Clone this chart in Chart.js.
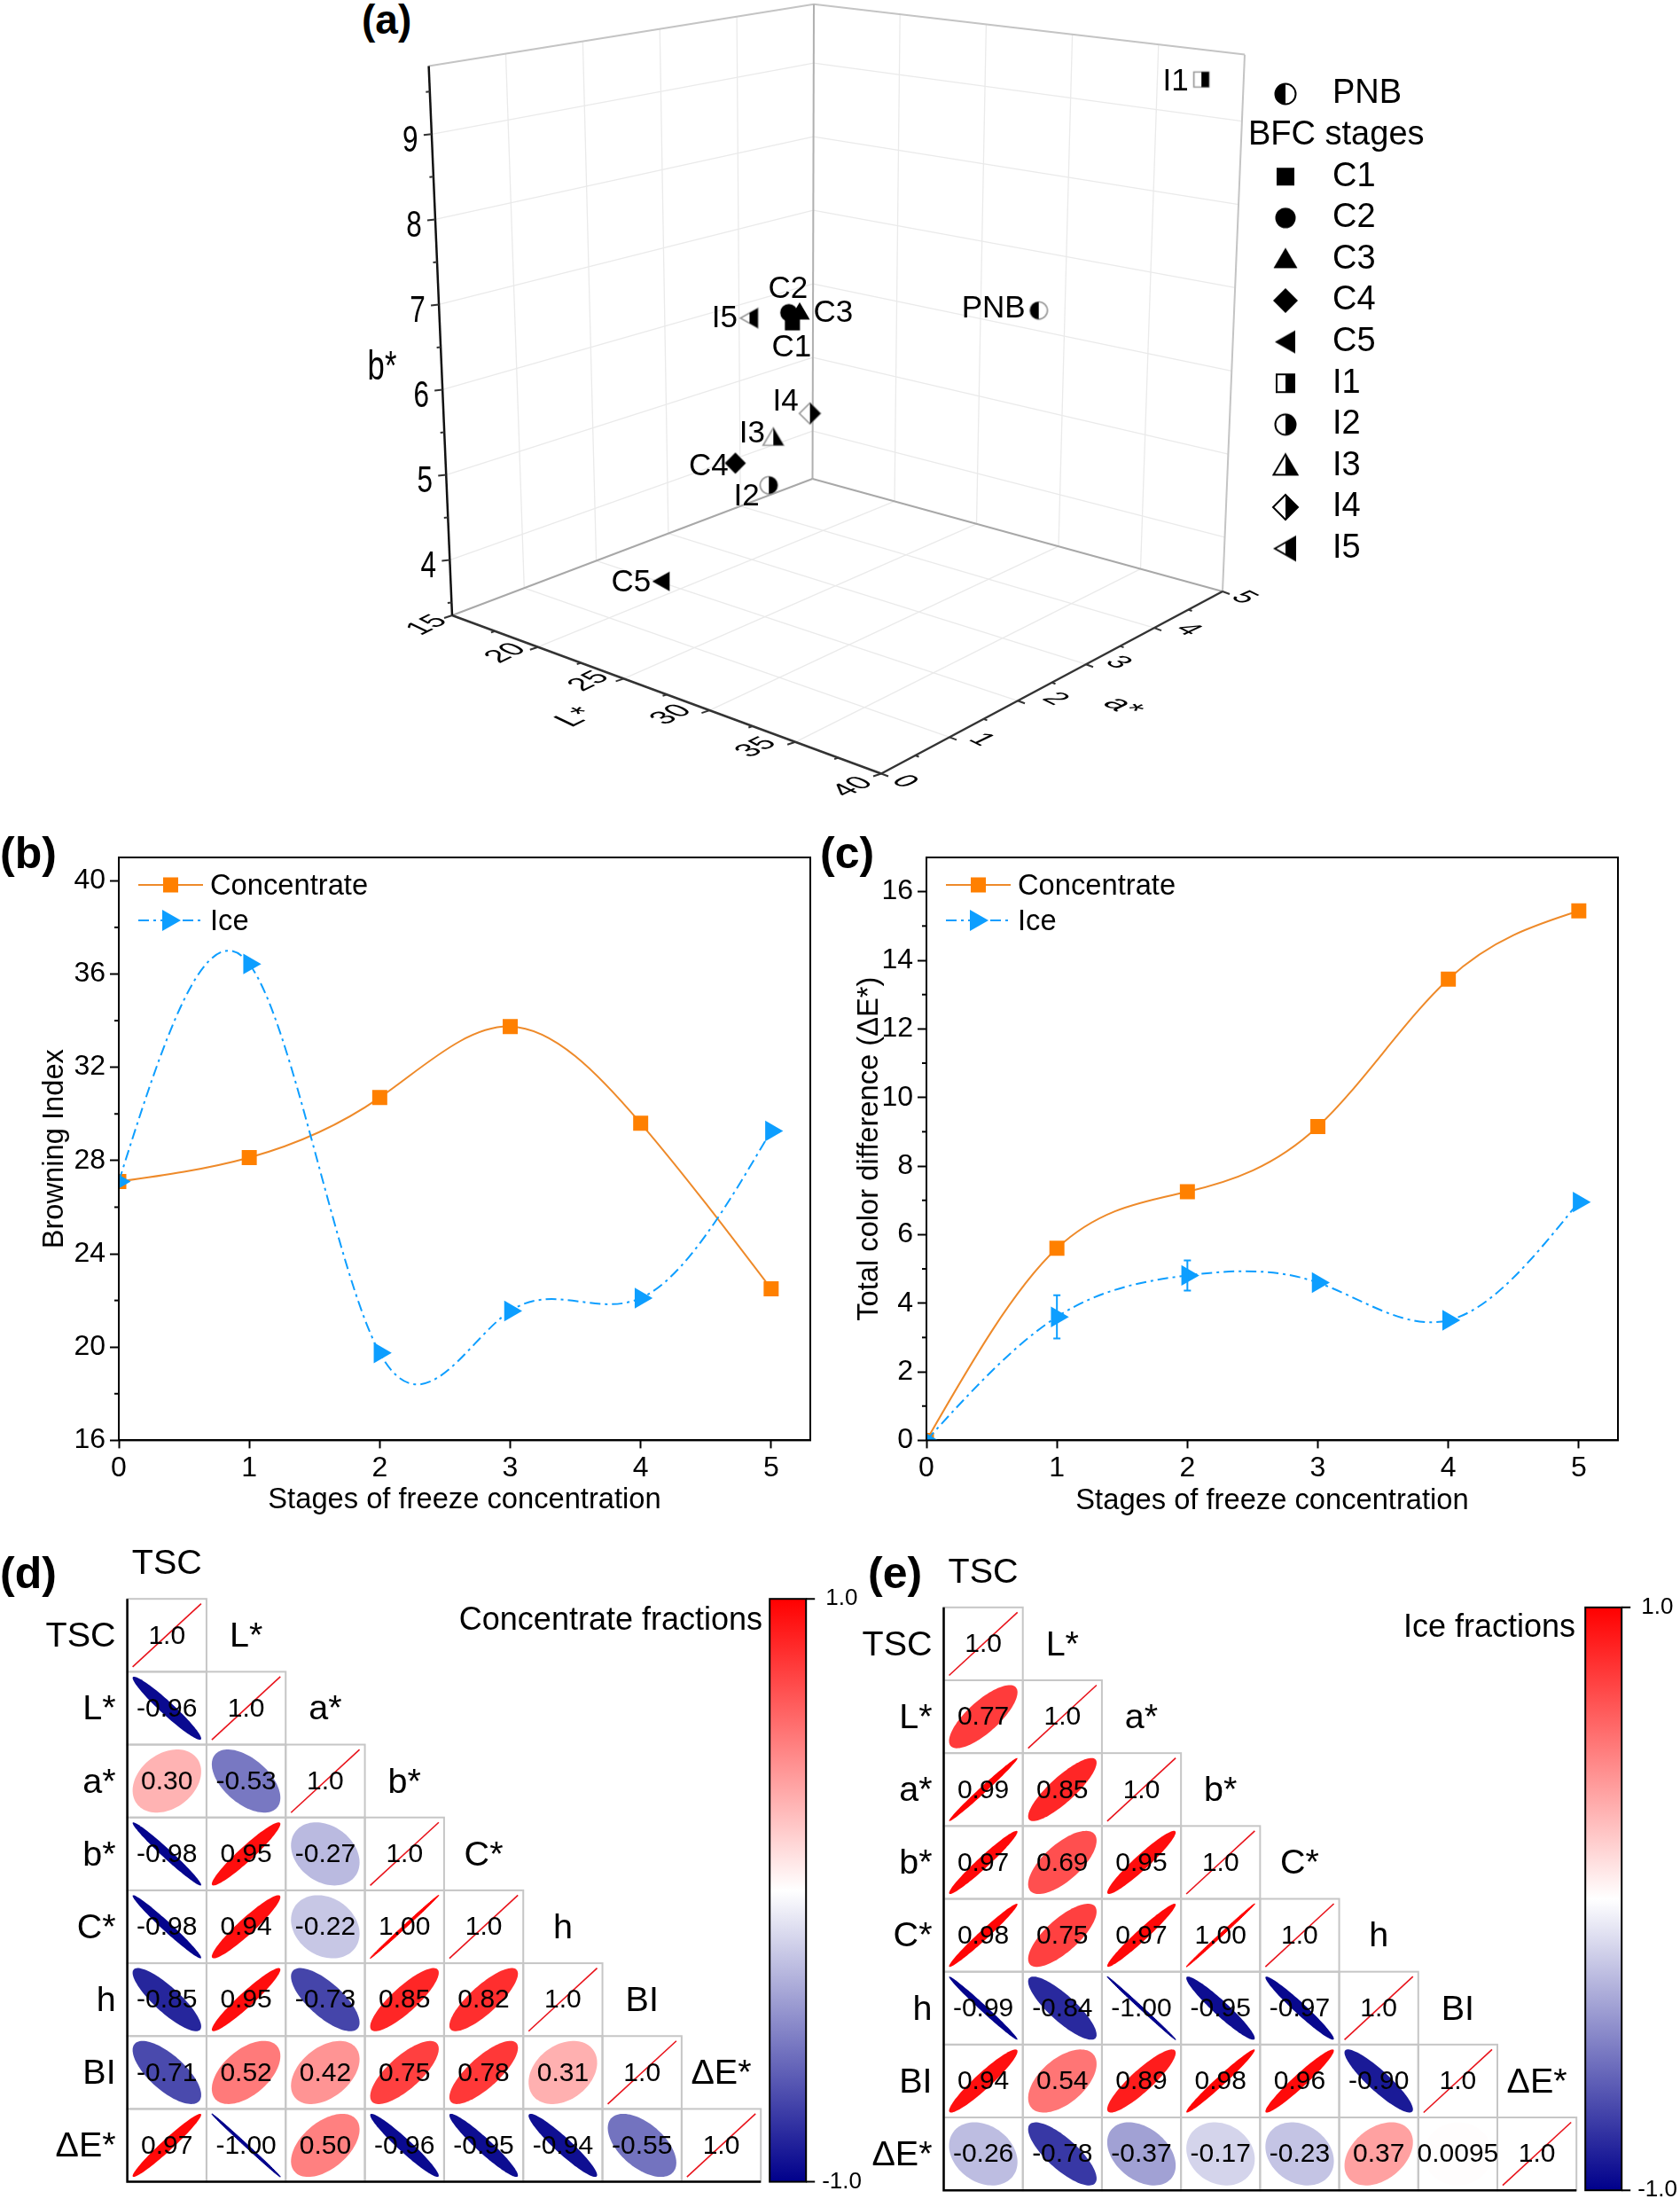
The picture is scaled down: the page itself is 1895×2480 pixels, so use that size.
<!DOCTYPE html>
<html>
<head>
<meta charset="utf-8">
<title>Freeze concentration colour figure</title>
<script src="https://cdn.jsdelivr.net/npm/chart.js@4/dist/chart.umd.js"></script>
<style>
  html, body { margin: 0; padding: 0; background: #fff; }
  body { position: relative; width: 1895px; height: 2480px; overflow: hidden; }
  canvas { position: absolute; }
  .panel { position: absolute; font: bold 50px "Liberation Sans", Arial, sans-serif; line-height: 50px; color: #000; }
</style>
</head>
<body>
<div class="panel" style="left:408px;top:-3px;font-size:46px">(a)</div>
<div class="panel" style="left:0;top:937px">(b)</div>
<div class="panel" style="left:925px;top:937px">(c)</div>
<div class="panel" style="left:0;top:1749px">(d)</div>
<div class="panel" style="left:979px;top:1749px">(e)</div>
<canvas id="chartA" width="1250" height="920" style="left:380px;top:0"></canvas>
<canvas id="chartB" width="930" height="800" style="left:0;top:930px"></canvas>
<canvas id="chartC" width="960" height="800" style="left:935px;top:930px"></canvas>
<canvas id="chartD" width="980" height="750" style="left:0;top:1730px"></canvas>
<canvas id="chartE" width="925" height="750" style="left:970px;top:1730px"></canvas>
<script>
// Panel (a): colour coordinates of each sample
const sampleNames = ['PNB', 'C1', 'C2', 'C3', 'C4', 'C5', 'I1', 'I2', 'I3', 'I4', 'I5'];
const lStar = [34.75, 26.75, 26.55, 26.75, 22.5, 21.0, 38.6, 28.75, 30.0, 31.5, 28.5];
const aStar = [3.5, 2.0, 2.0, 2.1, 2.2, 1.5, 4.75, 1.18, 0.95, 1.1, 1.0];
const bStar = [7.0, 6.92, 7.03, 7.02, 4.96, 3.68, 9.53, 5.39, 6.07, 6.38, 7.33];
const lTicks = [15, 20, 25, 30, 35, 40];
const aTicks = [0, 1, 2, 3, 4, 5];
const bTicks = [4, 5, 6, 7, 8, 9];

// Panels (b) and (c)
const stages = [0, 1, 2, 3, 4, 5];
const biConcentrate = [27.1, 28.13, 30.7, 33.75, 29.6, 22.5];
const biIce = [27.1, 36.43, 19.75, 21.55, 22.1, 29.27];
const deConcentrate = [0, 5.6, 7.25, 9.15, 13.45, 15.44];
const deIce = [0, 3.6, 4.81, 4.6, 3.5, 6.95];
const deIceErr = [0, 0.63, 0.44, 0, 0, 0];

// Panels (d) and (e): lower triangles of the correlation matrices
const corrVars = ['TSC', 'L*', 'a*', 'b*', 'C*', 'h', 'BI', 'ΔE*'];
const corrConcentrate = [
    ['1.0'],
    ['-0.96', '1.0'],
    ['0.30', '-0.53', '1.0'],
    ['-0.98', '0.95', '-0.27', '1.0'],
    ['-0.98', '0.94', '-0.22', '1.00', '1.0'],
    ['-0.85', '0.95', '-0.73', '0.85', '0.82', '1.0'],
    ['-0.71', '0.52', '0.42', '0.75', '0.78', '0.31', '1.0'],
    ['0.97', '-1.00', '0.50', '-0.96', '-0.95', '-0.94', '-0.55', '1.0']
];
const corrIce = [
    ['1.0'],
    ['0.77', '1.0'],
    ['0.99', '0.85', '1.0'],
    ['0.97', '0.69', '0.95', '1.0'],
    ['0.98', '0.75', '0.97', '1.00', '1.0'],
    ['-0.99', '-0.84', '-1.00', '-0.95', '-0.97', '1.0'],
    ['0.94', '0.54', '0.89', '0.98', '0.96', '-0.90', '1.0'],
    ['-0.26', '-0.78', '-0.37', '-0.17', '-0.23', '0.37', '0.0095', '1.0']
];

const FONT = '"Liberation Sans", Arial, sans-serif';
Chart.defaults.font.family = FONT;
Chart.defaults.color = '#000';
Chart.defaults.animation = false;

const ORANGE = '#FF8000';
const ORANGE_LINE = '#EE8A2A';
const BLUE = '#0D9EFF';

// 1. Panel (a): 3D scatter, projected on a flat scatter chart whose scales are page pixels
const lRange = [15, 40], aRange = [0, 5], bRange = [3.35, 9.8];

// page position of the box corners, named by [L end][a end]
const floorCorners = { l0a0: [510, 694], l1a0: [994, 872.5], l1a1: [1379, 667], l0a1: [916.5, 540] };
const topCorners = { l0a0: [483.6, 74.5], l1a0: [991.4, 182.5], l1a1: [1404, 61.6], l0a1: [918, 4.7] };

function project(L, a, b) {
    const u = (L - lRange[0]) / (lRange[1] - lRange[0]);
    const v = (a - aRange[0]) / (aRange[1] - aRange[0]);
    const w = (b - bRange[0]) / (bRange[1] - bRange[0]);
    const mix = (c, i) => (1 - u) * (1 - v) * c.l0a0[i] + u * (1 - v) * c.l1a0[i] + u * v * c.l1a1[i] + (1 - u) * v * c.l0a1[i];
    return {
        x: mix(floorCorners, 0) * (1 - w) + mix(topCorners, 0) * w,
        y: mix(floorCorners, 1) * (1 - w) + mix(topCorners, 1) * w
    };
}

const shapeOf = { PNB: 'circle', C1: 'square', C2: 'circle', C3: 'triUp', C4: 'diamond', C5: 'triLeft', I1: 'square', I2: 'circle', I3: 'triUp', I4: 'diamond', I5: 'triLeft' };

function shapePath(ctx, shape) {
    ctx.beginPath();
    if (shape === 'square') ctx.rect(-10, -10, 20, 20);
    if (shape === 'circle') ctx.arc(0, 0, 11.5, 0, Math.PI * 2);
    if (shape === 'triUp') { ctx.moveTo(0, -13); ctx.lineTo(13.5, 10); ctx.lineTo(-13.5, 10); ctx.closePath(); }
    if (shape === 'diamond') { ctx.moveTo(0, -14); ctx.lineTo(14, 0); ctx.lineTo(0, 14); ctx.lineTo(-14, 0); ctx.closePath(); }
    if (shape === 'triLeft') { ctx.moveTo(-12, 0); ctx.lineTo(11, -13); ctx.lineTo(11, 13); ctx.closePath(); }
}

// name decides the fill: C* solid, I* right half black, PNB left half black
function makeMarker(name, scale, outline) {
    const c = document.createElement('canvas');
    c.width = 36; c.height = 36;
    const ctx = c.getContext('2d');
    ctx.translate(18, 18);
    ctx.scale(scale, scale);
    shapePath(ctx, shapeOf[name]);
    if (name[0] === 'C') {
        ctx.fillStyle = '#000';
        ctx.fill();
        return c;
    }
    ctx.fillStyle = '#fff';
    ctx.fill();
    ctx.strokeStyle = outline;
    ctx.lineWidth = 2;
    ctx.stroke();
    ctx.save();
    ctx.beginPath();
    if (name === 'PNB') ctx.rect(-18, -18, 18, 36);
    else ctx.rect(0, -18, 18, 36);
    ctx.clip();
    shapePath(ctx, shapeOf[name]);
    ctx.fillStyle = '#000';
    ctx.fill();
    ctx.restore();
    return c;
}

// label centre relative to its point
const pointLabelOffset = {
    PNB: [-51, -2], C1: [-1, 28], C2: [-1, -26], C3: [38, 1], C4: [-30, 4], C5: [-34, 2],
    I1: [-29, 3], I2: [-25, 13], I3: [-24, -4], I4: [-27.5, -13], I5: [-28, 1]
};
const lTickOffset = [[-28, 11], [-36, 7], [-39, 3], [-43, 5], [-44, 6], [-32, 15]];
const aTickOffset = [[26, 9], [36, 3], [42, -2], [36, -2], [38, 2], [24, 7]];

const cagePlugin = {
    id: 'cage',
    beforeDatasetsDraw(chart) {
        const ctx = chart.ctx, sx = chart.scales.x, sy = chart.scales.y;
        const seg = (p, q, color, width) => {
            ctx.strokeStyle = color;
            ctx.lineWidth = width;
            ctx.beginPath();
            ctx.moveTo(sx.getPixelForValue(p.x), sy.getPixelForValue(p.y));
            ctx.lineTo(sx.getPixelForValue(q.x), sy.getPixelForValue(q.y));
            ctx.stroke();
        };
        const [l0, l1] = lRange, [a0, a1] = aRange, [b0, b1] = bRange;
        const grid = '#EAEAEA';
        ctx.save();
        lTicks.slice(1, -1).forEach(L => {
            seg(project(L, a0, b0), project(L, a1, b0), grid, 1.3);
            seg(project(L, a1, b0), project(L, a1, b1), grid, 1.3);
        });
        aTicks.slice(1, -1).forEach(a => {
            seg(project(l0, a, b0), project(l1, a, b0), grid, 1.3);
            seg(project(l0, a, b0), project(l0, a, b1), grid, 1.3);
        });
        bTicks.forEach(b => {
            seg(project(l0, a0, b), project(l0, a1, b), grid, 1.3);
            seg(project(l0, a1, b), project(l1, a1, b), grid, 1.3);
        });
        // box edges
        seg(project(l0, a0, b1), project(l0, a1, b1), '#C4C4C4', 2);
        seg(project(l0, a1, b1), project(l1, a1, b1), '#C4C4C4', 2);
        seg(project(l1, a1, b0), project(l1, a1, b1), '#C4C4C4', 2);
        seg(project(l0, a1, b0), project(l0, a1, b1), '#B0B0B0', 2);
        seg(project(l0, a0, b0), project(l0, a1, b0), '#A8A8A8', 2);
        seg(project(l0, a1, b0), project(l1, a1, b0), '#A8A8A8', 2);
        // axes
        seg(project(l0, a0, b0), project(l1, a0, b0), '#333', 2.5);
        seg(project(l1, a0, b0), project(l1, a1, b0), '#333', 2.5);
        seg(project(l0, a0, b0), project(l0, a0, b1), '#111', 2.5);
        // ticks, minor ones halfway
        const tick = (p, dx, dy, k) => seg(p, { x: p.x + dx * k, y: p.y + dy * k }, '#333', 2);
        lTicks.forEach((L, i) => {
            tick(project(L, a0, b0), -9, 3, 1);
            if (i < lTicks.length - 1) tick(project(L + 2.5, a0, b0), -9, 3, 0.5);
        });
        aTicks.forEach((a, i) => {
            tick(project(l1, a, b0), 8, 3, 1);
            if (i < aTicks.length - 1) tick(project(l1, a + 0.5, b0), 8, 3, 0.5);
        });
        bTicks.forEach(b => {
            tick(project(l0, a0, b), -9, 1, 1);
            tick(project(l0, a0, b - 0.5), -9, 1, 0.5);
        });
        tick(project(l0, a0, 9.5), -9, 1, 0.5);
        ctx.restore();
    },
    afterDatasetsDraw(chart) {
        const ctx = chart.ctx, sx = chart.scales.x, sy = chart.scales.y;
        const [l0, l1] = lRange, [a0, a1] = aRange, [b0] = bRange;
        // skewed text: m holds the x and y unit vectors of the glyphs
        const skewText = (text, px, py, font, m) => {
            ctx.save();
            ctx.translate(sx.getPixelForValue(px), sy.getPixelForValue(py));
            ctx.transform(m[0], m[1], m[2], m[3], 0, 0);
            ctx.font = font;
            ctx.textAlign = 'center';
            ctx.textBaseline = 'middle';
            ctx.fillStyle = '#000';
            ctx.fillText(text, 0, 0);
            ctx.restore();
        };
        const lSkew = [0.85, -0.42, 0.88, 0.42], aSkew = [0.85, 0.42, -0.88, 0.42], bSkew = [1.05, 0, 0, 1.42];
        lTicks.forEach((L, i) => {
            const p = project(L, a0, b0);
            skewText(String(L), p.x + lTickOffset[i][0], p.y + lTickOffset[i][1], '34px ' + FONT, lSkew);
        });
        aTicks.forEach((a, i) => {
            const p = project(l1, a, b0);
            skewText(String(a), p.x + aTickOffset[i][0], p.y + aTickOffset[i][1], '33px ' + FONT, aSkew);
        });
        bTicks.forEach(b => {
            const p = project(l0, a0, b);
            skewText(String(b), p.x - 24, p.y + 8, '30px ' + FONT, bSkew);
        });
        skewText('L*', 650, 809, '37px ' + FONT, lSkew);
        skewText('a*', 1266, 797, '37px ' + FONT, aSkew);
        skewText('b*', 431, 415, '33px ' + FONT, bSkew);

        // point names
        ctx.save();
        ctx.font = '35px ' + FONT;
        ctx.textAlign = 'center';
        ctx.textBaseline = 'middle';
        ctx.fillStyle = '#000';
        sampleNames.forEach((name, i) => {
            const p = project(lStar[i], aStar[i], bStar[i]);
            const off = pointLabelOffset[name];
            ctx.fillText(name, sx.getPixelForValue(p.x + off[0]), sy.getPixelForValue(p.y + off[1]));
        });

        // legend on the right
        ctx.font = '38px ' + FONT;
        ctx.textAlign = 'left';
        const legendRows = ['PNB', 'BFC stages', 'C1', 'C2', 'C3', 'C4', 'C5', 'I1', 'I2', 'I3', 'I4', 'I5'];
        legendRows.forEach((row, i) => {
            const y = sy.getPixelForValue(106 + 46.6 * i);
            if (row === 'BFC stages') {
                ctx.fillText(row, sx.getPixelForValue(1408), y);
                return;
            }
            ctx.drawImage(makeMarker(row, 1, '#000'), sx.getPixelForValue(1450) - 18, y - 18);
            ctx.fillText(row, sx.getPixelForValue(1503), y);
        });
        ctx.restore();
    }
};

new Chart(document.getElementById('chartA'), {
    type: 'scatter',
    data: {
        datasets: [{
            data: sampleNames.map((n, i) => project(lStar[i], aStar[i], bStar[i])),
            pointStyle: sampleNames.map(n => makeMarker(n, 0.85, '#999')),
            pointRadius: 10
        }]
    },
    options: {
        responsive: false,
        layout: { autoPadding: false },
        plugins: { legend: { display: false }, tooltip: { enabled: false } },
        scales: {
            x: { type: 'linear', display: false, min: 380, max: 1630 },
            y: { type: 'linear', display: false, min: 0, max: 920, reverse: true }
        }
    },
    plugins: [cagePlugin]
});

// 2. Panels (b) and (c): line charts

// the figure joins its points with a natural cubic spline, so the line's
// control points get replaced by that spline once Chart.js has placed the points
function applyNaturalSpline(line, area) {
    line.updateControlPoints(area);
    const pts = line.points, n = pts.length;
    const h = pts[1].x - pts[0].x;
    const c = new Array(n).fill(0), d = new Array(n).fill(0), m = new Array(n).fill(0);
    for (let i = 1; i < n - 1; i++) {
        const rhs = 6 * (pts[i - 1].y - 2 * pts[i].y + pts[i + 1].y) / (h * h);
        const w = 4 - c[i - 1];
        c[i] = 1 / w;
        d[i] = (rhs - d[i - 1]) / w;
    }
    for (let i = n - 2; i > 0; i--) m[i] = d[i] - c[i] * m[i + 1];
    for (let i = 0; i < n - 1; i++) {
        const slope0 = (pts[i + 1].y - pts[i].y) / h - h * (2 * m[i] + m[i + 1]) / 6;
        const slope1 = (pts[i + 1].y - pts[i].y) / h + h * (m[i] + 2 * m[i + 1]) / 6;
        pts[i].cp2x = pts[i].x + h / 3;
        pts[i].cp2y = pts[i].y + slope0 * h / 3;
        pts[i + 1].cp1x = pts[i + 1].x - h / 3;
        pts[i + 1].cp1y = pts[i + 1].y - slope1 * h / 3;
    }
}

function linePanel(canvasId, cfg) {
    const extras = {
        id: 'extras',
        beforeDatasetsDraw(chart) {
            chart.getSortedVisibleDatasetMetas().forEach(meta => applyNaturalSpline(meta.dataset, chart.chartArea));
        },
        afterDatasetsDraw(chart) {
            const ctx = chart.ctx, sx = chart.scales.x, sy = chart.scales.y;
            if (!cfg.err) return;
            ctx.save();
            ctx.strokeStyle = BLUE;
            ctx.lineWidth = 2;
            cfg.err.forEach((e, i) => {
                if (!e) return;
                const x = sx.getPixelForValue(stages[i]);
                const y1 = sy.getPixelForValue(cfg.ice[i] + e), y2 = sy.getPixelForValue(cfg.ice[i] - e);
                ctx.beginPath();
                ctx.moveTo(x, y1); ctx.lineTo(x, y2);
                ctx.moveTo(x - 4, y1); ctx.lineTo(x + 4, y1);
                ctx.moveTo(x - 4, y2); ctx.lineTo(x + 4, y2);
                ctx.stroke();
            });
            ctx.restore();
        },
        afterDraw(chart) {
            const ctx = chart.ctx, area = chart.chartArea, sy = chart.scales.y;
            ctx.save();
            // frame
            ctx.strokeStyle = '#000';
            ctx.lineWidth = 2;
            ctx.strokeRect(area.left, area.top, area.right - area.left, area.bottom - area.top);
            // minor ticks
            for (let v = cfg.yMin + cfg.yStep / 2; v < cfg.yMax; v += cfg.yStep) {
                const y = sy.getPixelForValue(v);
                ctx.beginPath();
                ctx.moveTo(area.left, y);
                ctx.lineTo(area.left - 5, y);
                ctx.stroke();
            }
            // legend
            ctx.font = '32.7px ' + FONT;
            ctx.textBaseline = 'middle';
            ctx.fillStyle = '#000';
            const x0 = area.left, y1 = area.top + 31, y2 = area.top + 71;
            ctx.fillText('Concentrate', x0 + 103, y1 + 2);
            ctx.fillText('Ice', x0 + 103, y2 + 2);
            ctx.strokeStyle = ORANGE_LINE;
            ctx.beginPath(); ctx.moveTo(x0 + 22, y1); ctx.lineTo(x0 + 95, y1); ctx.stroke();
            ctx.fillStyle = ORANGE;
            ctx.fillRect(x0 + 50, y1 - 8.5, 17, 17);
            ctx.strokeStyle = BLUE;
            ctx.setLineDash([12, 5, 3, 5]);
            ctx.beginPath(); ctx.moveTo(x0 + 22, y2); ctx.lineTo(x0 + 95, y2); ctx.stroke();
            ctx.setLineDash([]);
            ctx.fillStyle = BLUE;
            ctx.beginPath();
            ctx.moveTo(x0 + 70, y2); ctx.lineTo(x0 + 49, y2 - 12); ctx.lineTo(x0 + 49, y2 + 12); ctx.closePath();
            ctx.fill();
            ctx.restore();
        }
    };
    const toXY = values => stages.map((s, i) => ({ x: s, y: values[i] }));
    return new Chart(document.getElementById(canvasId), {
        type: 'scatter',
        data: {
            datasets: [{
                label: 'Concentrate',
                data: toXY(cfg.concentrate),
                showLine: true,
                order: 2,
                tension: 0.5,
                borderColor: ORANGE_LINE,
                borderWidth: 2,
                backgroundColor: ORANGE,
                pointBackgroundColor: ORANGE,
                pointBorderWidth: 0,
                pointStyle: 'rect',
                pointRadius: 12
            }, {
                label: 'Ice',
                data: toXY(cfg.ice),
                showLine: true,
                order: 1,
                tension: 0.5,
                borderColor: BLUE,
                borderWidth: 2,
                borderDash: [12, 5, 3, 5],
                backgroundColor: BLUE,
                pointBackgroundColor: BLUE,
                pointBorderWidth: 0,
                pointStyle: 'triangle',
                pointRotation: 90,
                pointRadius: 13.5
            }]
        },
        options: {
            responsive: false,
            layout: { autoPadding: false, padding: { top: 37, right: cfg.padRight, left: 0, bottom: 0 } },
            plugins: { legend: { display: false }, tooltip: { enabled: false } },
            scales: {
                x: {
                    type: 'linear',
                    min: 0,
                    max: 5.3,
                    afterFit: s => { s.height = 800 - 694.4; },
                    grid: { drawOnChartArea: false, tickLength: 9, tickWidth: 2, tickColor: '#000' },
                    border: { color: '#000', width: 2 },
                    ticks: { stepSize: 1, includeBounds: false, padding: 4, maxRotation: 0, font: { size: 32 } },
                    title: { display: true, text: 'Stages of freeze concentration', font: { size: 32.7 }, padding: { top: 0, bottom: cfg.xTitlePad } }
                },
                y: {
                    type: 'linear',
                    min: cfg.yMin,
                    max: cfg.yMax,
                    afterFit: s => { s.width = cfg.areaLeft; },
                    grid: { drawOnChartArea: false, tickLength: 10, tickWidth: 2, tickColor: '#000' },
                    border: { color: '#000', width: 2 },
                    ticks: { stepSize: cfg.yStep, includeBounds: false, padding: 5, font: { size: 32 } },
                    title: { display: true, text: cfg.yTitle, font: { size: 32.7 }, padding: { top: cfg.yTitlePad, bottom: 0 } }
                }
            }
        },
        plugins: [extras]
    });
}

linePanel('chartB', {
    concentrate: biConcentrate, ice: biIce, yMin: 16, yMax: 41, yStep: 4,
    yTitle: 'Browning Index', areaLeft: 134, padRight: 16, yTitlePad: 42, xTitlePad: 18
});
linePanel('chartC', {
    concentrate: deConcentrate, ice: deIce, err: deIceErr, yMin: 0, yMax: 17, yStep: 2,
    yTitle: 'Total color difference (ΔE*)', areaLeft: 110, padRight: 70, yTitlePad: 26, xTitlePad: 17
});

// 3. Panels (d) and (e): correlation ellipses, placed by a 0-8 scale on each axis
function corrColor(r) {
    const t = Math.abs(r);
    const c = r >= 0 ? [255, 0, 0] : [0, 0, 139];
    const mix = i => Math.round(255 + (c[i] - 255) * t);
    return `rgb(${mix(0)},${mix(1)},${mix(2)})`;
}

function corrPanel(canvasId, matrix, title, titleRight, titleY, pad) {
    const cells = [];
    matrix.forEach((row, r) => row.forEach((text, c) => cells.push({ x: c + 0.5, y: r + 0.5, text: text })));
    const n = corrVars.length;

    const corrPlugin = {
        id: 'corr',
        afterDatasetsDraw(chart) {
            const ctx = chart.ctx, sx = chart.scales.x, sy = chart.scales.y, area = chart.chartArea;
            const cw = sx.getPixelForValue(1) - sx.getPixelForValue(0);
            const ch = sy.getPixelForValue(1) - sy.getPixelForValue(0);
            ctx.save();
            // cell borders
            ctx.strokeStyle = '#C6C6C6';
            ctx.lineWidth = 2;
            cells.forEach(d => {
                ctx.strokeRect(sx.getPixelForValue(d.x - 0.5), sy.getPixelForValue(d.y - 0.5), cw, ch);
            });
            // ellipses
            cells.forEach(d => {
                const cx = sx.getPixelForValue(d.x), cy = sy.getPixelForValue(d.y);
                const rx = cw / 2 - 6, ry = ch / 2 - 5.5;
                if (d.text === '1.0') {
                    ctx.strokeStyle = '#E8141C';
                    ctx.lineWidth = 1.6;
                    ctx.beginPath();
                    ctx.moveTo(cx - rx, cy + ry);
                    ctx.lineTo(cx + rx, cy - ry);
                    ctx.stroke();
                    return;
                }
                const r = Math.max(-0.998, Math.min(0.998, parseFloat(d.text)));
                const half = Math.acos(r) / 2;
                ctx.beginPath();
                for (let k = 0; k <= 96; k++) {
                    const t = k / 96 * Math.PI * 2;
                    const px = cx + rx * Math.cos(t + half);
                    const py = cy - ry * Math.cos(t - half);
                    if (k === 0) ctx.moveTo(px, py); else ctx.lineTo(px, py);
                }
                ctx.closePath();
                ctx.fillStyle = corrColor(parseFloat(d.text));
                ctx.fill();
                if (Math.abs(r) === 0.998) {
                    ctx.strokeStyle = ctx.fillStyle;
                    ctx.lineWidth = 1;
                    ctx.stroke();
                }
            });
            // numbers
            ctx.fillStyle = '#000';
            ctx.textAlign = 'center';
            ctx.textBaseline = 'middle';
            ctx.font = '30px ' + FONT;
            cells.forEach(d => {
                ctx.fillText(d.text, sx.getPixelForValue(d.x), sy.getPixelForValue(d.y) + 1);
            });
            // variable names, along the left and above the diagonal
            ctx.font = '39.5px ' + FONT;
            corrVars.forEach((v, i) => {
                ctx.fillText(v, sx.getPixelForValue(i + 0.5), sy.getPixelForValue(i - 0.5) + 2);
            });
            ctx.textAlign = 'right';
            corrVars.forEach((v, i) => {
                ctx.fillText(v, area.left - 13, sy.getPixelForValue(i + 0.5) + 2);
            });
            // left and bottom axes
            ctx.strokeStyle = '#000';
            ctx.lineWidth = 2.5;
            ctx.beginPath();
            ctx.moveTo(area.left, area.top);
            ctx.lineTo(area.left, area.bottom);
            ctx.lineTo(area.right, area.bottom);
            ctx.stroke();
            // caption
            ctx.font = '36px ' + FONT;
            ctx.fillText(title, titleRight, titleY);
            // colour bar
            const barLeft = area.right + 10, barW = 41;
            const grad = ctx.createLinearGradient(0, area.top, 0, area.bottom);
            grad.addColorStop(0, corrColor(1));
            grad.addColorStop(0.5, corrColor(0));
            grad.addColorStop(1, corrColor(-1));
            ctx.fillStyle = grad;
            ctx.fillRect(barLeft, area.top, barW, area.bottom - area.top);
            ctx.lineWidth = 2;
            ctx.strokeRect(barLeft, area.top, barW, area.bottom - area.top);
            ctx.beginPath();
            ctx.moveTo(barLeft + barW, area.top); ctx.lineTo(barLeft + barW + 10, area.top);
            ctx.moveTo(barLeft + barW, area.bottom); ctx.lineTo(barLeft + barW + 10, area.bottom);
            ctx.stroke();
            ctx.fillStyle = '#000';
            ctx.font = '26px ' + FONT;
            ctx.textAlign = 'left';
            ctx.fillText('1.0', barLeft + barW + 22, area.top);
            ctx.fillText('-1.0', barLeft + barW + 18, area.bottom);
            ctx.restore();
        }
    };

    return new Chart(document.getElementById(canvasId), {
        type: 'scatter',
        data: { datasets: [{ data: cells, pointRadius: 0 }] },
        options: {
            responsive: false,
            layout: { autoPadding: false, padding: pad },
            plugins: { legend: { display: false }, tooltip: { enabled: false } },
            scales: {
                x: { type: 'linear', display: false, min: 0, max: n },
                y: { type: 'linear', display: false, min: 0, max: n, reverse: true }
            }
        },
        plugins: [corrPlugin]
    });
}

corrPanel('chartD', corrConcentrate, 'Concentrate fractions', 860, 98.5,
    { left: 143.6, right: 121.8, top: 73.2, bottom: 19.4 });
corrPanel('chartE', corrIce, 'Ice fractions', 807, 106.5,
    { left: 94.5, right: 116.8, top: 82.8, bottom: 9.8 });
</script>
</body>
</html>
